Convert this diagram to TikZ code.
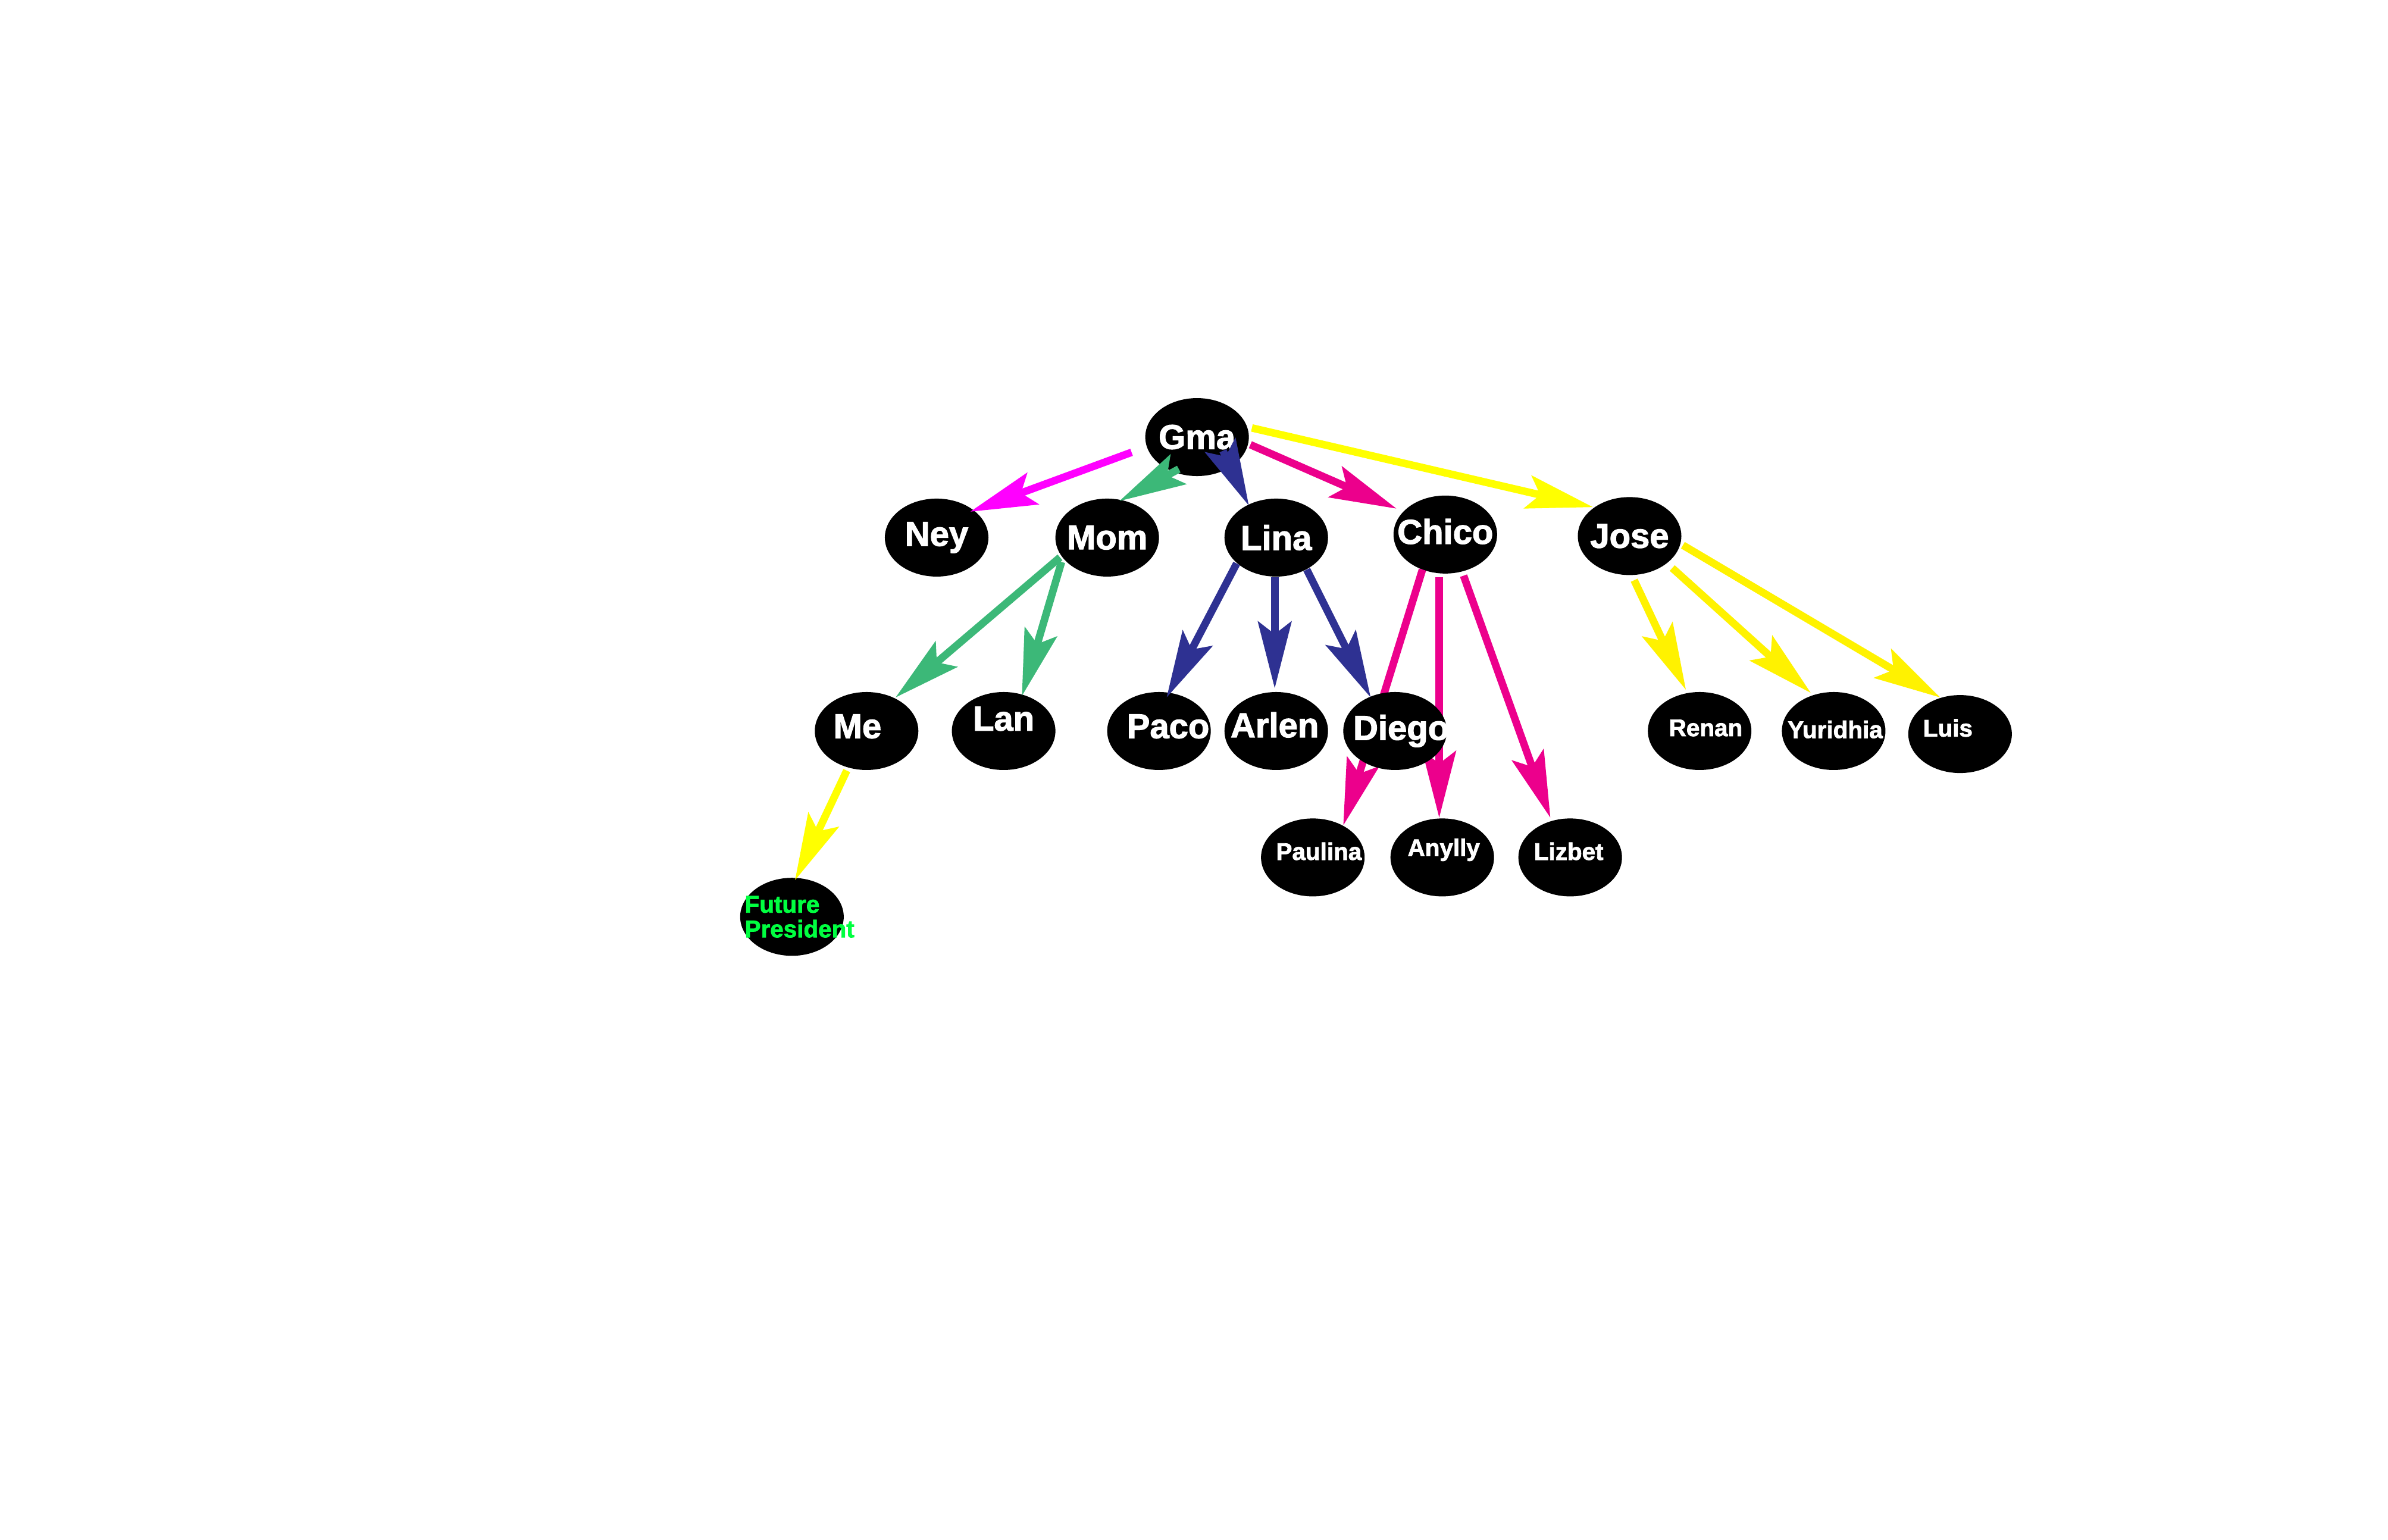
\documentclass[tikz,border=0pt]{standalone}
\usepackage{fontspec}
\setmainfont{Liberation Sans}[BoldFeatures={FakeBold=2}]
\usetikzlibrary{arrows.meta,calc,shapes.geometric}

\definecolor{famMagenta}{RGB}{255,0,255}
\definecolor{famGreen}{RGB}{60,184,120}
\definecolor{famBlue}{RGB}{46,49,146}
\definecolor{famPink}{RGB}{236,0,140}
\definecolor{famYellow}{RGB}{255,255,0}
\definecolor{famGold}{RGB}{255,242,0}
\definecolor{presGreen}{RGB}{0,255,64}

\begin{document}
\begin{tikzpicture}[x=0.025593cm,y=-0.025593cm,
    person/.style={ellipse,fill=black,minimum width=1.74cm,minimum height=1.31cm,inner sep=0pt},
    bigname/.style={text=white,font=\fontsize{16.5}{18}\selectfont\bfseries,inner sep=0pt},
    smallname/.style={text=white,font=\fontsize{11.5}{13}\selectfont\bfseries,inner sep=0pt},
    presname/.style={text=presGreen,font=\fontsize{11.5}{11.8}\selectfont\bfseries,align=left,inner sep=0pt},
    link/.style={-{Stealth[length=1.12cm,width=0.56cm,inset=0.21cm]},line width=3.6pt}]
\useasboundingbox (0,0) rectangle (1568,1011);
% Personnes
\node[person,label={[bigname]center:Gma}] (gma) at (786,287) {};
\node[person,label={[bigname]center:Ney}] (ney) at (615,353) {};
\node[person,label={[bigname]center:Mom}] (mom) at (727,353) {};
\node[person,label={[bigname]center:Lina}] (lina) at (838,353) {};
\node[person,label={[bigname,shift={(0,-2)}]center:Chico}] (chico) at (949,351) {};
\node[person,label={[bigname]center:Jose}] (jose) at (1070,352) {};
\node[person,label={[bigname,shift={(-6,-3)}]center:Me}] (me) at (569,480) {};
\node[person,label={[bigname,shift={(0,-8)}]center:Lan}] (lan) at (659,480) {};
\node[person,label={[bigname,shift={(6,-3)}]center:Paco}] (paco) at (761,480) {};
\node[person,label={[bigname,shift={(-1,-4)}]center:Arlen}] (arlen) at (838,480) {};
\node[person,label={[smallname,shift={(4,-2)}]center:Renan}] (renan) at (1116,480) {};
\node[person,label={[smallname,shift={(1,-1)}]center:Yuridhia}] (yuri) at (1204,480) {};
\node[person,label={[smallname,shift={(-8,-4)}]center:Luis}] (luis) at (1287,482) {};
\node[person,label={[smallname,shift={(4,-4)}]center:Paulina}] (paulina) at (862,563) {};
\node[person,label={[smallname,shift={(1,-5)}]center:Anylly}] (anylly) at (947,563) {};
\node[person,label={[smallname,shift={(-1,-4)}]center:Lizbet}] (lizbet) at (1031,563) {};
\node[person,label={[presname,shift={(5,0)}]center:Future\\President}] (future) at (520,602) {};
% Flèches de Chico (sous Diego)
\draw[link,famPink] ($(chico)+(-15,23)$) -- ($(paulina)+(20,-21)$);
\draw[link,famPink] ($(chico)+(-4,28)$) -- ($(anylly)+(-2,-26)$);
\node[person,label={[bigname,shift={(4,0)}]center:Diego}] (diego) at (916,480) {};
% Flèches
\draw[link,famMagenta] ($(gma)+(-43,10)$) -- ($(ney)+(22,-17)$);
\draw[link,famGreen] ($(gma)+(-12,21)$) -- ($(mom)+(8,-24)$);
\draw[link,famBlue] ($(gma)+(17,9)$) -- ($(lina)+(-18,-21)$);
\draw[link,famPink] ($(gma)+(35,5)$) -- ($(chico)+(-32,-17)$);
\draw[link,famYellow] ($(gma)+(36,-6)$) -- ($(jose)+(-24,-19)$);
\draw[link,famGreen] ($(mom)+(-31,13)$) -- ($(me)+(19,-22)$);
\draw[link,famGreen] ($(mom)+(-30,16)$) -- ($(lan)+(12,-23)$);
\draw[link,famBlue] ($(lina)+(-26,17)$) -- ($(paco)+(5,-22)$);
\draw[link,famBlue] ($(lina)+(-1,26)$) -- ($(arlen)+(-1,-28)$);
\draw[link,famBlue] ($(lina)+(20,21)$) -- ($(diego)+(-16,-22)$);
\draw[link,famPink] ($(chico)+(12,27)$) -- ($(lizbet)+(-13,-26)$);
\draw[link,famGold] ($(jose)+(3,29)$) -- ($(renan)+(-9,-27)$);
\draw[link,famGold] ($(jose)+(28,21)$) -- ($(yuri)+(-15,-25)$);
\draw[link,famGold] ($(jose)+(35,6)$) -- ($(luis)+(-13,-24)$);
\draw[link,famYellow] ($(me)+(-13,26)$) -- ($(future)+(2,-24)$);
\end{tikzpicture}
\end{document}
